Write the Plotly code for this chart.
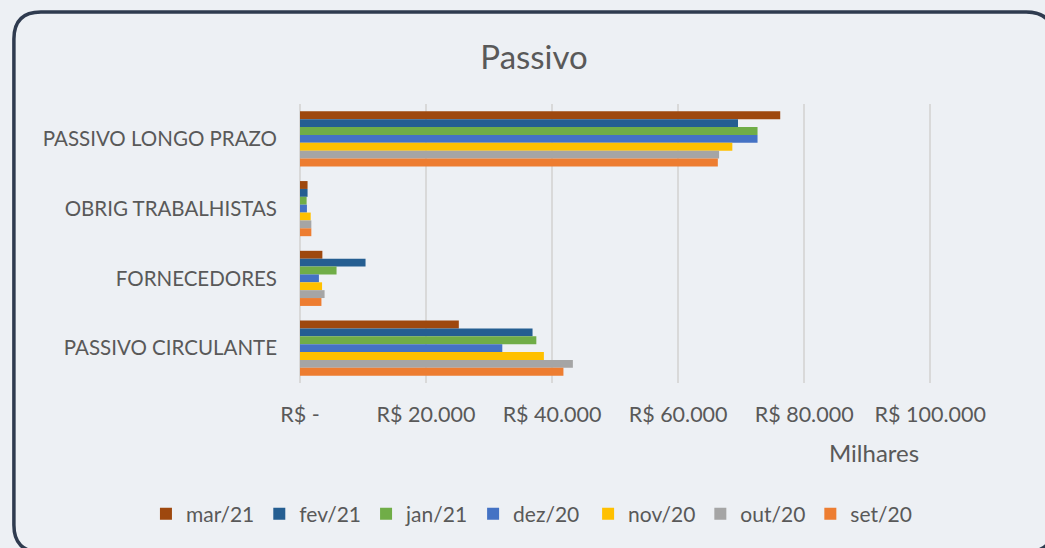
import plotly.graph_objects as go

categories = ["PASSIVO LONGO PRAZO", "OBRIG TRABALHISTAS", "FORNECEDORES", "PASSIVO CIRCULANTE"]

series_names = ["mar/21", "fev/21", "jan/21", "dez/20", "nov/20", "out/20", "set/20"]
mar21 = [76200, 1200, 3550, 25200]
fev21 = [69500, 1200, 10400, 36900]
jan21 = [72600, 1050, 5800, 37500]
dez20 = [72600, 1100, 3000, 32100]
nov20 = [68600, 1700, 3500, 38700]
out20 = [66500, 1800, 3900, 43300]
set20 = [66300, 1800, 3400, 41800]
series_values = [mar21, fev21, jan21, dez20, nov20, out20, set20]
series_colors = ["#9E480E", "#255E91", "#70AD47", "#4472C4", "#FFC000", "#A5A5A5", "#ED7D31"]
legend_ids = ["legend", "legend", "legend", "legend", "legend2", "legend2", "legend2"]

tick_vals = [0, 20000, 40000, 60000, 80000, 100000]
tick_text = ["R$ -", "R$ 20.000", "R$ 40.000", "R$ 60.000", "R$ 80.000", "R$ 100.000"]

W, H = 1045, 548
XMAX = 100600
L, T, B = 300, 104, 383
R = L + 630 * XMAX / 100000
FONT = "Lato, 'Open Sans', sans-serif"
TXT = "#595959"
BG = "#EDF0F4"

fig = go.Figure()
for name, vals, col, lg in zip(series_names, series_values, series_colors, legend_ids):
    fig.add_trace(go.Bar(
        y=categories, x=vals, name=name, orientation="h", legend=lg,
        marker=dict(color=col, line=dict(width=0)),
    ))

def px(x):
    return (x - L) / (R - L)

def py(y):
    return (B - y) / (B - T)

x0, y0, x1, y1, r = 14, 12, 1053, 552, 27
pts = [
    ("M", (x0 + r, y0)),
    ("L", (x1 - r, y0)), ("Q", (x1, y0), (x1, y0 + r)),
    ("L", (x1, y1 - r)), ("Q", (x1, y1), (x1 - r, y1)),
    ("L", (x0 + r, y1)), ("Q", (x0, y1), (x0, y1 - r)),
    ("L", (x0, y0 + r)), ("Q", (x0, y0), (x0 + r, y0)),
]
path = ""
for item in pts:
    cmd = item[0]
    coords = " ".join(f"{px(a):.5f},{py(b):.5f}" for a, b in item[1:])
    path += f"{cmd}{coords} "
path += "Z"

legend_style = dict(orientation="h", xanchor="left", y=py(514), yanchor="middle",
                    font=dict(size=21, color=TXT, family=FONT), bgcolor="rgba(0,0,0,0)",
                    traceorder="normal")

fig.update_layout(
    width=W, height=H,
    margin=dict(l=L, r=W - R, t=T, b=H - B, pad=0, autoexpand=False),
    paper_bgcolor=BG, plot_bgcolor=BG,
    barmode="group", bargap=0.21, bargroupgap=0,
    font=dict(family=FONT, color=TXT, size=18),
    title=dict(text="Passivo", x=px(534), xref="paper", xanchor="center",
               y=1 - 57 / H, yanchor="middle",
               font=dict(size=33, color=TXT, family=FONT)),
    showlegend=True,
    legend=dict(x=px(146), **legend_style),
    legend2=dict(x=px(588), **legend_style),
    shapes=[dict(type="path", xref="paper", yref="paper", path=path,
                 line=dict(color="#2F3B4F", width=3.5), layer="below")],
    annotations=[dict(text="Milhares", xref="paper", yref="paper", x=px(874), y=py(452),
                      xanchor="center", yanchor="middle", showarrow=False,
                      font=dict(size=24, color=TXT, family=FONT))],
)
fig.update_xaxes(range=[0, XMAX], tickvals=tick_vals, ticktext=tick_text,
                 showgrid=True, gridcolor="#D9D9D9", gridwidth=1.5,
                 zeroline=True, zerolinecolor="#D9D9D9", zerolinewidth=1.5,
                 showline=False, ticks="", ticklabelstandoff=16,
                 tickfont=dict(size=21.5, color=TXT, family=FONT))
fig.update_yaxes(autorange="reversed", showgrid=False, zeroline=False, showline=False,
                 ticks="", ticklabelstandoff=22,
                 tickfont=dict(size=20.5, color=TXT, family=FONT))

fig.write_html("out.html", config={"displayModeBar": False},
               post_script="document.body.style.margin='0';document.body.style.overflow='hidden';")
